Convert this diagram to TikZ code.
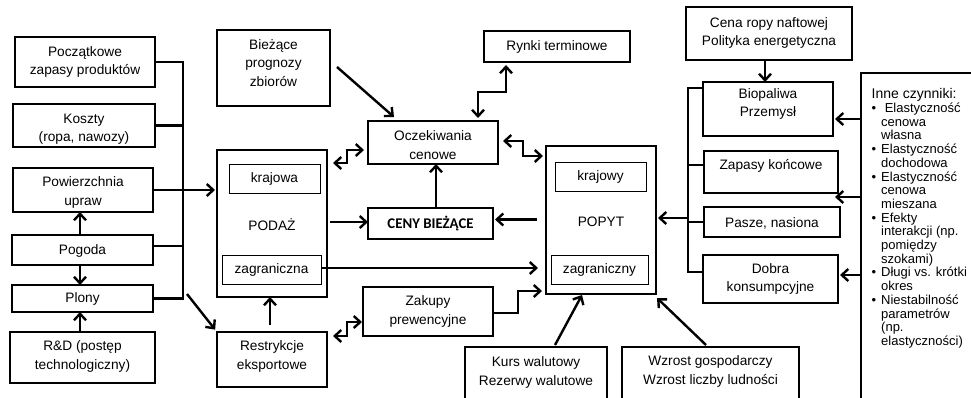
\documentclass[tikz,border=0pt]{standalone}
\usepackage{fontspec}
\setmainfont{Liberation Sans}
\newfontfamily\calibfont{Carlito}
\usetikzlibrary{arrows.meta,calc}

\tikzset{
  box/.style={draw, line width=2.4pt, inner sep=0pt, outer sep=0pt, rectangle},
  inbox/.style={draw, line width=1pt, inner sep=0pt, outer sep=0pt, rectangle},
  txt/.style={inner sep=0pt, align=center, font=\fontsize{13.7}{18.5}\selectfont},
  conn/.style={line width=2.4pt},
  arr/.style={conn, -{Straight Barb[length=6.5pt,width=12pt]}},
  darr/.style={conn, {Straight Barb[length=6.5pt,width=12pt]}-{Straight Barb[length=6.5pt,width=12pt]}},
}
\newcommand\bx[6][box]{\node[#1, minimum width={#5-#3}, minimum height={#6-#4}] (#2) at ({(#3+#5)/2},{(#4+#6)/2}) {};}
\newcommand\bul[1]{\makebox[9.5pt][l]{\textbullet}#1}
\newcommand\ind[1]{\hspace*{9.5pt}#1}

\begin{document}
\begin{tikzpicture}[x=1pt,y=-1pt]
\useasboundingbox (0,0) rectangle (971,397);

% ---------- boxes ----------
\bx{pocz}{15}{37}{155}{87}
\bx{kosz}{13}{104}{155}{147}
\bx{pow}{13}{168}{153}{212}
\bx{pog}{12}{235}{153}{265}
\bx{plon}{12}{285}{153}{312}
\bx{rd}{10}{332}{155}{383}
\bx{biez}{217}{30}{330}{106}
\bx{podaz}{217}{150}{327}{297}
\bx[inbox]{kraj}{229}{164}{320}{193}
\bx[inbox]{zagr}{222}{255}{321}{284}
\bx{ocz}{368}{121}{498}{164}
\bx{rynki}{484}{31}{630}{62}
\bx{ceny}{368}{208}{493}{239}
\bx{zak}{363}{287}{493}{336}
\bx{restr}{217}{332}{327}{387}
\bx{kurs}{465}{347}{607}{405}
\bx{wzr}{622}{347}{799}{405}
\bx{popyt}{546}{146}{656}{294}
\bx[inbox]{krajy}{555}{162}{646}{191}
\bx[inbox]{zagry}{551}{255}{648}{284}
\bx{cena}{686}{7}{852}{60}
\bx{bio}{703}{82}{833}{136}
\bx{zapk}{704}{151}{838}{193}
\bx{pasze}{704}{207}{840}{237}
\bx{dobra}{703}{255}{838}{303}
\bx{inne}{861}{73}{995}{420}

% ---------- texts ----------
\node[txt] (poczT) at (85,62) {Początkowe\\zapasy produktów};
\node[txt] (koszT) at (84,129) {Koszty\\(ropa, nawozy)};
\node[txt] (powT) at (83,192.5) {Powierzchnia\\upraw};
\node[txt] (pogT) at (82.5,251) {Pogoda};
\node[txt] (plonT) at (82.5,299) {Plony};
\node[txt] (rdT) at (82.5,356.5) {R\&D (postęp\\technologiczny)};
\node[txt] (biezT) at (273.5,63) {Bieżące\\prognozy\\zbiorów};
\node[txt] (krajT) at (274.5,178.5) {krajowa};
\node[txt] (podazT) at (272,225) {PODAŻ};
\node[txt] (zagrT) at (271.5,269.5) {zagraniczna};
\node[txt] (oczT) at (433,145) {Oczekiwania\\cenowe};
\node[txt] (rynkiT) at (557,46.5) {Rynki terminowe};
\node[txt, font=\calibfont\bfseries\fontsize{14.8}{17}\selectfont] (cenyT) at (430.5,223.5) {CENY BIEŻĄCE};
\node[txt] (zakT) at (428,311.5) {Zakupy\\prewencyjne};
\node[txt] (restrT) at (272,356.5) {Restrykcje\\eksportowe};
\node[txt] (kursT) at (536,372.5) {Kurs walutowy\\Rezerwy walutowe};
\node[txt] (wzrT) at (710.5,371.5) {Wzrost gospodarczy\\Wzrost liczby ludności};
\node[txt] (krajyT) at (600.5,176.5) {krajowy};
\node[txt] (popytT) at (601,222) {POPYT};
\node[txt] (zagryT) at (599.5,269.5) {zagraniczny};
\node[txt] (cenaT) at (769,33) {Cena ropy naftowej\\Polityka energetyczna};
\node[txt] (bioT) at (768,104) {Biopaliwa\\Przemysł};
\node[txt] (zapkT) at (771,166) {Zapasy końcowe};
\node[txt] (paszeT) at (772,223) {Pasze, nasiona};
\node[txt] (dobraT) at (770.5,279) {Dobra\\konsumpcyjne};
\node[anchor=north west, inner sep=0pt, align=left, font=\fontsize{13}{13.7}\selectfont] (inneT) at (871.5,88.5)
 {{\fontsize{14}{13.7}\selectfont Inne czynniki:}\\
  \bul{\ Elastyczność}\\ \ind{cenowa}\\ \ind{własna}\\
  \bul{Elastyczność}\\ \ind{dochodowa}\\
  \bul{Elastyczność}\\ \ind{cenowa}\\ \ind{mieszana}\\
  \bul{Efekty}\\ \ind{interakcji (np.}\\ \ind{pomiędzy}\\ \ind{szokami)}\\
  \bul{Długi vs. krótki}\\ \ind{okres}\\
  \bul{Niestabilność}\\ \ind{parametrów}\\ \ind{(np.}\\ \ind{elastyczności)}};

% ---------- left bracket ----------
\coordinate (jtop) at (183,62);
\draw[conn] (pocz.east) -- (pocz.east -| jtop) -- (plon.east -| jtop) -- (plon.east);
\draw[conn] (kosz.east) -- (kosz.east -| jtop);
\draw[conn] ([yshift=4pt]pog.east) -- ([yshift=4pt]pog.east -| jtop);
\draw[arr] (pow.east) -- ([xshift=-2pt]pow.east -| podaz.west);
\coordinate (jdiag) at (187,294);
\draw[arr, shorten >=3pt] (jdiag) -- (restr.north west);

\draw[arr] ([xshift=-2.5pt]pog.north) -- ([xshift=-2.5pt]pog.north |- pow.south);
\draw[arr] ([xshift=-2.5pt]pog.south) -- ([xshift=-2.5pt]pog.south |- plon.north);
\draw[arr] ([xshift=-2.5pt]rd.north) -- ([xshift=-2.5pt]rd.north |- plon.south);

% ---------- centre ----------
\draw[arr] ($(biez.east)+(7,-1)$) -- ($(ocz.north west)+(26,-4)$);
\draw[darr] ($(ocz.north)+(45,-3)$) -- ($(ocz.north)+(45,-29)$) -| ($(rynki.south)+(-51,3)$);
\draw[darr] ($(podaz.north east)+(6,13)$) -- ++(14,0) -- ++(0,-13) -- ($(ocz.west)+(-4,7.5)$);
\draw[darr] ($(ocz.east)+(5,-1.5)$) -- ++(20,0) -- ++(0,15) -- ($(popyt.north west)+(-3,10)$);
\draw[arr] ([xshift=5.5pt]ceny.north) -- ([xshift=5.5pt]ceny.north |- ocz.south);
\draw[arr] ([xshift=3pt,yshift=1.5pt]podaz.east |- ceny.west) -- ([yshift=1.5pt]ceny.west);
\draw[arr] ([xshift=-9pt,yshift=4pt]popyt.west |- ceny.east) -- ([xshift=2pt,yshift=4pt]ceny.east);
\draw[arr] ([yshift=1.5pt]zagr.east) -- ([xshift=-8pt,yshift=1.5pt]zagr.east -| popyt.west);
\draw[arr] ([yshift=-1.5pt]zak.east) -- ++(25,0) |- ([xshift=-4pt,yshift=3pt]popyt.south west);
\draw[darr] ($(restr.north east)+(6,4)$) -- ++(14,0) -- ++(0,-14) -- ($(zak.west)+(-1,10.5)$);
\draw[arr] ([xshift=-2pt,yshift=7pt]restr.north) -- ([xshift=-2pt]restr.north |- podaz.south);
\draw[arr] ($(kurs.north)+(19,-2)$) -- ($(popyt.south)+(-19,1)$);
\draw[arr] ($(wzr.north)+(-4.5,-2)$) -- ($(popyt.south east)+(1,4)$);

% ---------- right bracket ----------
\coordinate (rtop) at (688,88);
\coordinate (rbot) at (688,272);
\draw[conn] (rtop -| bio.west) -- (rtop) -- (rbot) -- (rbot -| dobra.west);
\draw[conn] ([yshift=7pt]zapk.west) -- ([yshift=7pt]zapk.west -| rtop);
\draw[conn] (pasze.west) -- (pasze.west -| rtop);
\draw[arr] ([yshift=4pt]pasze.west -| rtop) -- ([xshift=2pt,yshift=4pt]pasze.west -| popyt.east);
\draw[arr] ([xshift=-3pt]bio.north |- cena.south) -- ([xshift=-3pt]bio.north);
\draw[arr] ([yshift=-10pt]bio.east -| inne.west) -- ([xshift=2pt,yshift=-10pt]bio.east);
\draw[arr] ([yshift=-4pt]zapk.south east -| inne.west) -- ([xshift=-3pt,yshift=-4pt]zapk.south east);
\draw[arr] ([yshift=4pt]dobra.east -| inne.west) -- ([xshift=2pt,yshift=4pt]dobra.east);
\end{tikzpicture}
\end{document}
